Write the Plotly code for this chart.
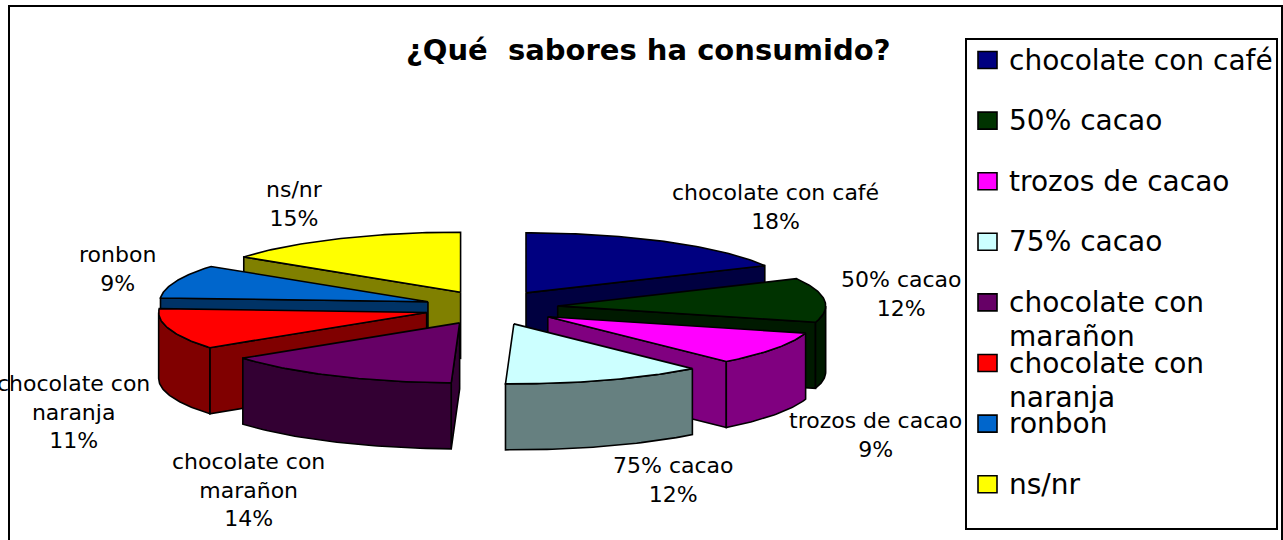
import numpy as np

import plotly.graph_objects as go

flavours = [
    "chocolate con café",
    "50% cacao",
    "trozos de cacao",
    "75% cacao",
    "chocolate con marañon",
    "chocolate con naranja",
    "ronbon",
    "ns/nr",
]
# slice sizes as measured on the drawing, the labels show them rounded
shares = [17.5, 11.9, 9.0, 12.1, 14.5, 11.0, 9.0, 15.0]
share_labels = ["18%", "12%", "9%", "12%", "14%", "11%", "9%", "15%"]
top_colors = ["#000080", "#003300", "#FF00FF", "#CCFFFF", "#660066", "#FF0000", "#0066CC", "#FFFF00"]
side_colors = ["#000040", "#001A00", "#800080", "#668080", "#330033", "#800000", "#003366", "#808000"]

# pie geometry, in page pixels
cx, cy = 491, 307.6
rx, ry = 268, 60
explode_x, explode_y = 67, 17.3
depth = 66

# painter's order: left half back to front, then right half
draw_order = [7, 6, 5, 4, 0, 1, 2, 3]

# centre of each data label
label_x = [775, 901, 875, 673, 248, 73, 117, 294]
label_y = [207, 294, 435, 480, 490, 412, 269, 204]
label_lines = [
    ["chocolate con café"],
    ["50% cacao"],
    ["trozos de cacao"],
    ["75% cacao"],
    ["chocolate con", "marañon"],
    ["chocolate con", "naranja"],
    ["ronbon"],
    ["ns/nr"],
]
legend_lines = label_lines

FONT = "DejaVu Sans"

fig = go.Figure()


def add_poly(xs, ys, color, name):
    fig.add_trace(
        go.Scatter(
            x=np.append(xs, xs[0]),
            y=np.append(ys, ys[0]),
            mode="lines",
            fill="toself",
            fillcolor=color,
            line=dict(color="black", width=1.6),
            name=name,
            hoverinfo="skip",
            showlegend=False,
        )
    )


edges = np.cumsum([0] + shares) / sum(shares) * 2 * np.pi

for i in draw_order:
    a0, a1 = edges[i], edges[i + 1]
    mid = (a0 + a1) / 2
    ax = cx + explode_x * np.sin(mid)
    ay = cy - explode_y * np.cos(mid)

    def rim(t):
        return ax + rx * np.sin(t), ay - ry * np.cos(t)

    # radial walls that face the viewer
    for a, visible in ((a0, np.sin(a0) < -1e-9), (a1, np.sin(a1) > 1e-9)):
        if visible:
            ex, ey = rim(a)
            add_poly(
                np.array([ax, ex, ex, ax]),
                np.array([ay, ey, ey + depth, ay + depth]),
                side_colors[i],
                flavours[i] + " wall",
            )

    # outer wall, only the front half of the circle shows
    f0, f1 = max(a0, np.pi / 2), min(a1, 3 * np.pi / 2)
    if f1 > f0:
        t = np.linspace(f0, f1, 40)
        ex, ey = rim(t)
        add_poly(
            np.concatenate([ex, ex[::-1]]),
            np.concatenate([ey, ey[::-1] + depth]),
            side_colors[i],
            flavours[i] + " rim",
        )

    # top face
    t = np.linspace(a0, a1, 60)
    ex, ey = rim(t)
    add_poly(np.append(ax, ex), np.append(ay, ey), top_colors[i], flavours[i])

# data labels
for i, lines in enumerate(label_lines):
    fig.add_annotation(
        x=label_x[i],
        y=label_y[i],
        text="<br>".join(lines + [share_labels[i]]),
        showarrow=False,
        xanchor="center",
        yanchor="middle",
        font=dict(family=FONT, size=22, color="black"),
    )

# title
fig.add_annotation(
    x=648,
    y=50,
    text="¿Qué\u00a0 sabores ha consumido?",
    showarrow=False,
    xanchor="center",
    yanchor="middle",
    font=dict(family=FONT, size=29, color="black", weight="bold"),
)

# chart frame and legend box
fig.add_shape(type="rect", x0=9, y0=6, x1=1282, y1=560, line=dict(color="black", width=2), layer="below")
fig.add_shape(type="rect", x0=966, y0=39, x1=1277, y1=529, line=dict(color="black", width=2), fillcolor="white")

legend_top = 60
legend_step = 60.6
for i, lines in enumerate(legend_lines):
    y = legend_top + i * legend_step
    fig.add_shape(
        type="rect",
        x0=978,
        x1=997,
        y0=y - 8.5,
        y1=y + 8.5,
        fillcolor=top_colors[i],
        line=dict(color="black", width=1.6),
    )
    for j, line in enumerate(lines):
        fig.add_annotation(
            x=1007,
            y=y + j * 34,
            text=line,
            showarrow=False,
            xanchor="left",
            yanchor="middle",
            font=dict(family=FONT, size=28, color="black"),
        )

fig.update_xaxes(range=[0, 1283], visible=False, fixedrange=True)
fig.update_yaxes(range=[540, 0], visible=False, fixedrange=True)
fig.update_layout(
    width=1283,
    height=540,
    margin=dict(l=0, r=0, t=0, b=0),
    plot_bgcolor="white",
    paper_bgcolor="white",
    showlegend=False,
)
# page default margin would push the figure 8px in
fig.write_html(
    "out.html",
    config={"displayModeBar": False},
    post_script="document.body.style.margin='0';",
)
